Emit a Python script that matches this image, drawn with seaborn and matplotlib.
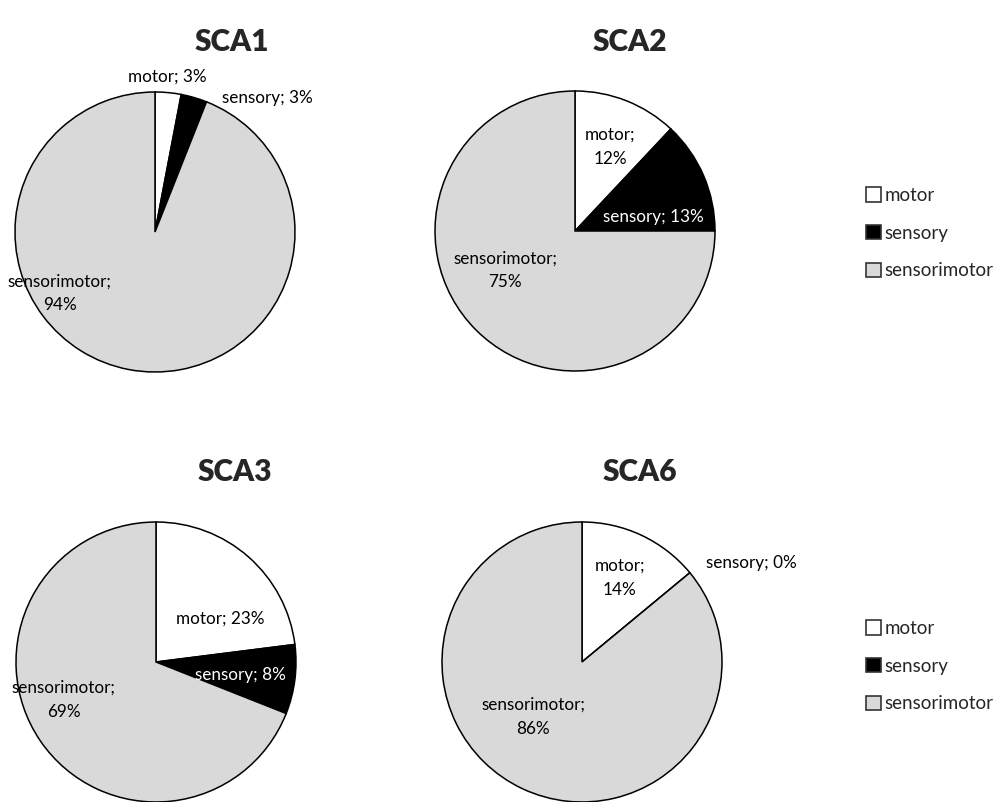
import matplotlib
matplotlib.use("Agg")
import matplotlib.pyplot as plt
import seaborn as sns

# data
categories = ["motor", "sensory", "sensorimotor"]
titles = ["SCA1", "SCA2", "SCA3", "SCA6"]
sca1 = [3, 3, 94]
sca2 = [12, 13, 75]
sca3 = [23, 8, 69]
sca6 = [14, 0, 86]
colors = ["#ffffff", "#000000", "#d9d9d9"]

sns.set_theme(style="white")
plt.rcParams["font.family"] = ["Lato", "DejaVu Sans"]

W, H = 1005, 802
R = 140
# pie centres in pixels (from top-left)
centers = [(155, 232), (575, 231), (156, 662), (582, 662)]
title_pos = [(232, 42), (630, 42), (235, 472), (640, 472)]

# data label positions (in pie radius units) and text layout
label_pos = [
    [(0.09, 1.11), (0.80, 0.96), (-0.68, -0.44)],
    [(0.25, 0.60), (0.56, 0.10), (-0.50, -0.28)],
    [(0.46, 0.31), (0.60, -0.09), (-0.66, -0.27)],
    [(0.27, 0.60), (1.21, 0.71), (-0.35, -0.39)],
]
label_sep = [
    ["; ", "; ", ";\n"],
    [";\n", "; ", ";\n"],
    ["; ", "; ", ";\n"],
    [";\n", "; ", ";\n"],
]
label_col = [
    ["black", "black", "black"],
    ["black", "white", "black"],
    ["black", "white", "black"],
    ["black", "black", "black"],
]

fig = plt.figure(figsize=(W / 100, H / 100), dpi=100)
series = [sca1, sca2, sca3, sca6]

for i, vals in enumerate(series):
    cx, cy = centers[i]
    ax = fig.add_axes([(cx - R) / W, (H - cy - R) / H, 2 * R / W, 2 * R / H])
    wedges, _ = ax.pie(vals, colors=colors, startangle=90, counterclock=False,
                       wedgeprops=dict(edgecolor="black", linewidth=1.1))
    for w in wedges:
        w.set_clip_on(False)
    ax.set_xlim(-1, 1)
    ax.set_ylim(-1, 1)
    ax.set_aspect("equal")
    ax.axis("off")
    for j, cat in enumerate(categories):
        x, y = label_pos[i][j]
        ax.text(x, y, f"{cat}{label_sep[i][j]}{vals[j]}%", ha="center", va="center",
                fontsize=12.3, color=label_col[i][j], linespacing=1.6, clip_on=False)
    tx, ty = title_pos[i]
    fig.text(tx / W, 1 - ty / H, titles[i], ha="center", va="center",
             fontsize=21.5, fontweight="heavy")

# legends on the right
for ly in [187, 620]:
    handles = [plt.Rectangle((0, 0), 1, 1, facecolor=c, edgecolor="#333333", linewidth=1.2)
               for c in colors]
    fig.legend(handles, categories, loc="upper left",
               bbox_to_anchor=(866 / W, 1 - ly / H), frameon=False,
               fontsize=13.5, handlelength=0.8, handleheight=0.8,
               handletextpad=0.2, labelspacing=1.1, borderpad=0, borderaxespad=0)

fig.savefig("out.png", dpi=100)
